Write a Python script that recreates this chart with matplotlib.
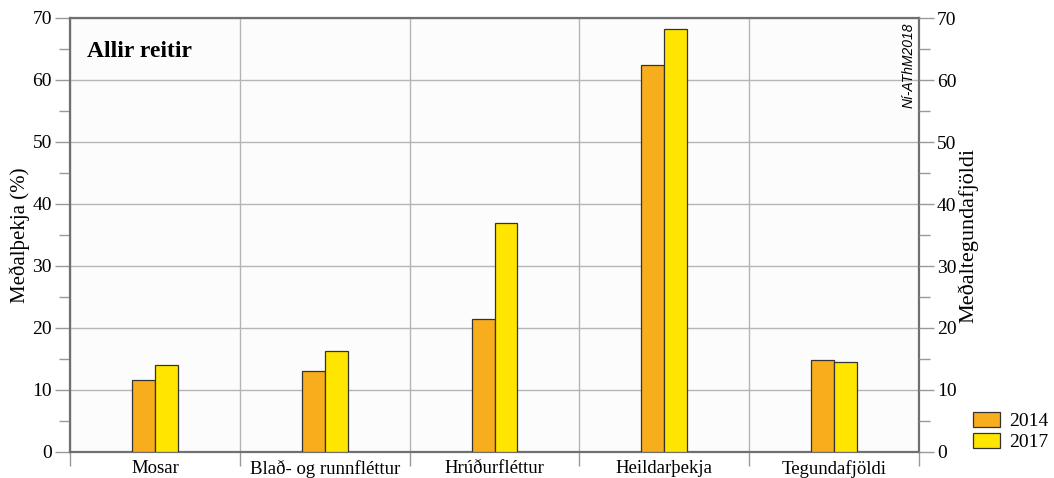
import matplotlib
matplotlib.use("Agg")
import matplotlib.pyplot as plt
import numpy as np

categories = ["Mosar", "Blað- og runnfléttur", "Hrúðurfléttur", "Heildarþekja", "Tegundafjöldi"]
years = ["2014", "2017"]
values_2014 = [11.6, 13.0, 21.5, 62.4, 14.9]
values_2017 = [14.0, 16.3, 37.0, 68.3, 14.5]
colors = ["#F8AD1D", "#FFE500"]

plt.rcParams['font.family'] = ['Liberation Serif', 'DejaVu Serif']

fig = plt.figure(figsize=(10.54, 4.78), dpi=100)
ax = fig.add_axes([70/1054, 26/478, 849/1054, 434/478])
ax.set_facecolor("#fcfcfc")

x = np.arange(len(categories))
w = 0.135
ax.bar(x - w/2, values_2014, w, color=colors[0], edgecolor="#333333", linewidth=0.9, label=years[0], zorder=3)
ax.bar(x + w/2, values_2017, w, color=colors[1], edgecolor="#333333", linewidth=0.9, label=years[1], zorder=3)

ax.set_xlim(-0.5, len(categories) - 0.5)
ax.set_ylim(0, 70)
ax.set_yticks(np.arange(0, 71, 10))
ax.set_yticks(np.arange(5, 70, 10), minor=True)
ax.set_xticks(np.arange(-0.5, len(categories), 1))
ax.set_xticklabels([])
ax.set_xticks(x, minor=True)
ax.set_xticklabels(categories, minor=True, fontsize=13.5)
ax.tick_params(axis='x', which='minor', length=0, pad=6)
ax.tick_params(axis='x', which='major', length=10, color="#999999", width=1)
ax.tick_params(axis='y', which='major', length=11, color="#999999", width=1, labelsize=14, pad=2)
ax.tick_params(axis='y', which='minor', length=8, color="#999999", width=1)

ax.grid(True, which='major', axis='both', color="#b5b5b5", linewidth=1, zorder=0)

for s in ax.spines.values():
    s.set_color("#707070")
    s.set_linewidth(1.6)

ax2 = ax.twinx()
ax2.set_ylim(0, 70)
ax2.set_yticks(np.arange(0, 71, 10))
ax2.set_yticks(np.arange(5, 70, 10), minor=True)
ax2.tick_params(axis='y', which='major', length=11, color="#999999", width=1, labelsize=14, pad=2)
ax2.tick_params(axis='y', which='minor', length=8, color="#999999", width=1)
for s in ax2.spines.values():
    s.set_visible(False)

ax.set_ylabel("Meðalþekja (%)", fontsize=15, labelpad=1.5)
ax2.set_ylabel("Meðaltegundafjöldi", fontsize=16, labelpad=1)

ax.text(0.02, 0.922, "Allir reitir", transform=ax.transAxes, fontsize=17, fontweight='bold', va='center', ha='left')
ax.text(0.988, 0.99, "Ní-AThM2018", transform=ax.transAxes, fontsize=10, style='italic',
        family=['Liberation Sans', 'DejaVu Sans'], rotation=90, ha='center', va='top')

handles, labels = ax.get_legend_handles_labels()
fig.legend(handles, labels, loc='lower left', bbox_to_anchor=(973/1054, 27/478), frameon=False,
           fontsize=14, handlelength=1.4, handleheight=0.8, labelspacing=0.15, handletextpad=0.45,
           borderpad=0, borderaxespad=0)

fig.savefig("out.png", dpi=100)
